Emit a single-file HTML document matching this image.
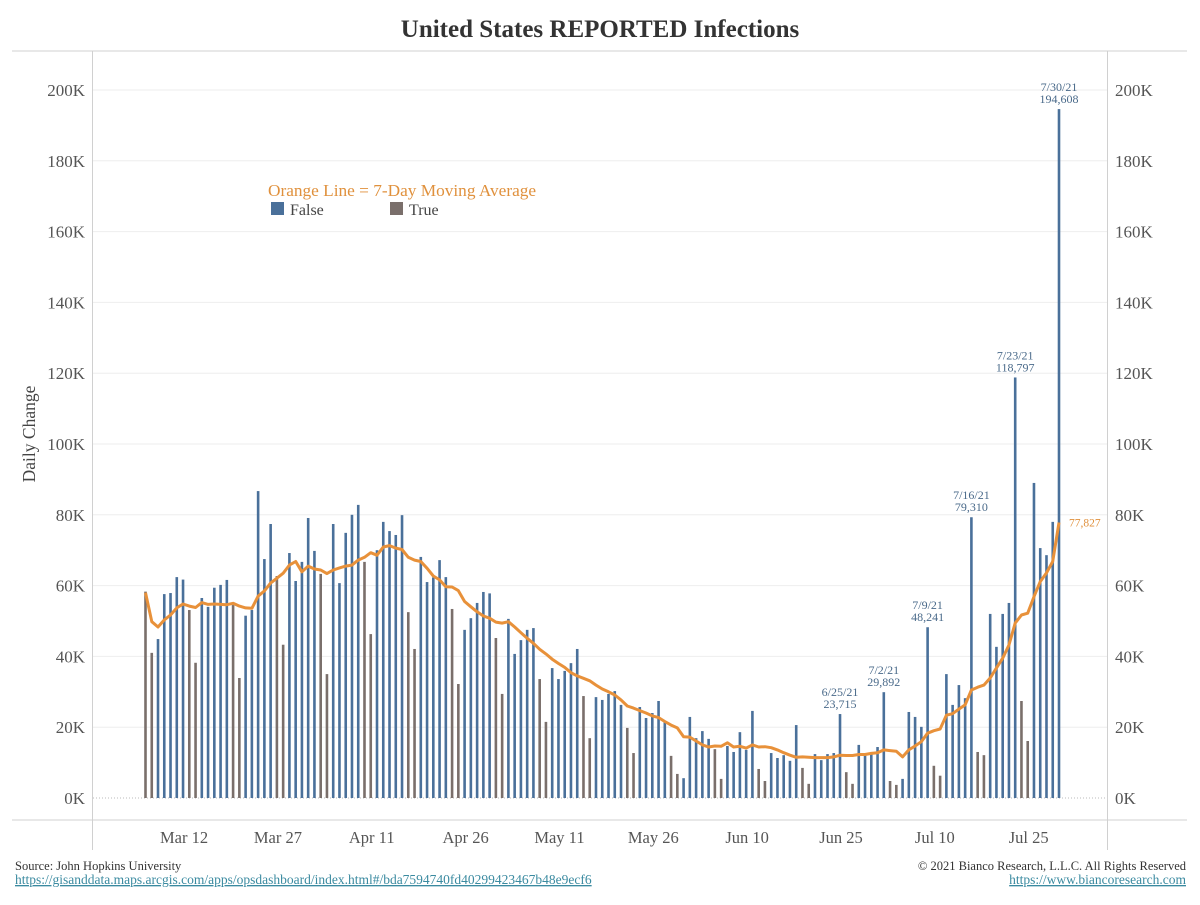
<!DOCTYPE html>
<html><head><meta charset="utf-8"><style>
html,body{margin:0;padding:0;background:#fff;}
body{width:1200px;height:900px;overflow:hidden;font-family:"Liberation Serif",serif;}
</style></head><body>
<svg id="chart" width="1200" height="900" viewBox="0 0 1200 900" xmlns="http://www.w3.org/2000/svg" font-family="Liberation Serif, serif">
<text x="600" y="37" text-anchor="middle" font-size="25" font-weight="bold" fill="#333">United States REPORTED Infections</text>
<g id="frame">
<line x1="12" y1="51" x2="1187" y2="51" stroke="#d0d0d0"/>
<line x1="12" y1="820" x2="1187" y2="820" stroke="#d0d0d0"/>
<line x1="92.5" y1="51" x2="92.5" y2="850" stroke="#d0d0d0"/>
<line x1="1107.5" y1="51" x2="1107.5" y2="850" stroke="#d0d0d0"/>
</g>
<g id="grid"></g>
<g id="bars"></g>
<g id="ma"></g>
<g id="yl"></g>
<g id="yr"></g>
<g id="xa"></g>
<g id="ann"></g>
<text transform="translate(35,434) rotate(-90)" text-anchor="middle" font-size="17.5" fill="#444">Daily Change</text>
<g>
<text x="268" y="196" font-size="17.3" fill="#e0913d">Orange Line = 7-Day Moving Average</text>
<rect x="271" y="202" width="13" height="13" fill="#4a709a"/>
<text x="290" y="215" font-size="16" fill="#444">False</text>
<rect x="390" y="202" width="13" height="13" fill="#7a6f6b"/>
<text x="409" y="215" font-size="16" fill="#444">True</text>
</g>
<text x="15" y="870" font-size="12.5" fill="#333">Source: John Hopkins University</text>
<text x="15" y="884" font-size="13.5" fill="#3a8aa0" text-decoration="underline">https://gisanddata.maps.arcgis.com/apps/opsdashboard/index.html#/bda7594740fd40299423467b48e9ecf6</text>
<text x="1186" y="870" font-size="12.5" fill="#333" text-anchor="end">© 2021 Bianco Research, L.L.C. All Rights Reserved</text>
<text x="1186" y="884" font-size="13.5" fill="#3a8aa0" text-anchor="end" text-decoration="underline">https://www.biancoresearch.com</text>
</svg>
<script>
const startDate = [2021, 2, 6];
const dailyK = [58.3,41.0,44.9,57.6,57.9,62.4,61.7,53.1,38.2,56.5,54.0,59.4,60.2,61.6,54.5,33.9,51.5,53.1,86.7,67.5,77.4,62.7,43.3,69.2,61.3,
66.7,79.1,69.8,63.3,35.0,77.4,60.7,74.9,80.0,82.8,66.7,46.3,70.0,78.0,75.4,74.3,79.9,52.5,42.1,68.1,61.0,62.3,67.2,62.4,
53.4,32.2,47.5,50.8,55.1,58.2,57.8,45.2,29.4,50.6,40.7,44.6,47.5,48.0,33.6,21.5,36.7,33.6,35.9,38.1,42.1,28.8,16.9,28.5,27.7,
29.4,30.2,26.3,19.8,12.7,25.7,22.6,24.0,27.4,21.5,11.9,6.8,5.6,22.9,16.9,18.9,16.7,13.8,5.4,14.7,13.0,18.6,13.6,24.6,8.2,
4.8,12.7,11.3,12.1,10.5,20.6,8.5,4.0,12.4,10.7,12.4,12.7,23.715,7.3,4.0,15.0,12.0,13.0,14.4,29.892,4.8,3.7,5.4,24.3,
22.9,20.1,48.241,9.1,6.3,35.0,26.3,31.9,28.2,79.31,13.0,12.1,52.0,42.7,52.0,55.1,118.797,27.4,16.1,89.0,70.6,68.6,78.0,194.608];
const isTrue = [1,1,0,0,0,0,0,1,1,0,0,0,0,0,1,1,0,0,0,0,0,1,1,0,0,
0,0,0,1,1,0,0,0,0,0,1,1,0,0,0,0,0,1,1,0,0,0,0,0,
1,1,0,0,0,0,0,1,1,0,0,0,0,0,1,1,0,0,0,0,0,1,1,0,0,
0,0,0,1,1,0,0,0,0,0,1,1,0,0,0,0,0,1,1,0,0,0,0,0,1,
1,0,0,0,0,0,1,1,0,0,0,0,0,1,1,0,0,0,0,0,1,1,0,0,
0,0,0,1,1,0,0,0,0,0,1,1,0,0,0,0,0,1,1,0,0,0,0,0];
const movingAvgK = [58,49.8,48.3,50.3,51.7,53.7,54.8,54.2,53.8,55.2,54.7,54.8,54.7,54.6,55,54.2,53.7,53.6,57,58.5,60.7,62.1,63.5,65.8,66.8,
63.9,65.5,64.7,64.4,63.4,64.4,65,65.5,65.8,67.2,68,69.3,68.6,70.9,71.3,70.6,70.2,68,67.2,66.8,64.9,62.7,61.6,59.7,
59.6,58.6,55.5,54,52.6,51.4,50.8,49.7,49.4,49.8,48.3,46.7,45.1,43.7,42,40.7,39.2,38,36.9,35.4,34.5,33.8,33.1,31.9,30.8,
30,29.1,27.7,26,25.4,24.7,24,23.2,22.7,21.6,20.6,19.8,17.3,17.2,16.1,15,14.4,14.7,14.6,15.6,14.4,14.6,14.1,15,14.4,
14.5,14.2,13.6,12.8,12.1,11.5,11.6,11.5,11.4,11.4,11.4,11.6,12.1,12,12,12.3,12.3,12.6,12.8,13.6,13.4,13.2,11.6,13.6,
14.7,15.9,18.3,19,19.5,23.4,23.8,25.1,26.3,30.5,31.3,31.9,33.9,36.7,39.5,43.2,49.4,51.7,52.2,56.9,61.1,63.6,66.8,77.827];
const yTicks = [0,20,40,60,80,100,120,140,160,180,200];
const yTickLabels = ["0K","20K","40K","60K","80K","100K","120K","140K","160K","180K","200K"];
const xTickLabels = ["Mar 12","Mar 27","Apr 11","Apr 26","May 11","May 26","Jun 10","Jun 25","Jul 10","Jul 25"];
const xTickDays = [6,21,36,51,66,81,96,111,126,141];
const annDays = [111,118,125,132,139,146];
const annTexts = [["6/25/21","23,715"],["7/2/21","29,892"],["7/9/21","48,241"],["7/16/21","79,310"],["7/23/21","118,797"],["7/30/21","194,608"]];
const maEndLabel = "77,827";

const NS="http://www.w3.org/2000/svg";
const X0=145.5, DX=(1059-145.5)/146;
function xs(i){return X0+i*DX;}
function ys(v){return 798 - v*3.54;}
function mk(tag,attrs,parent,text){const e=document.createElementNS(NS,tag);for(const k in attrs)e.setAttribute(k,attrs[k]);if(text!==undefined)e.textContent=text;parent.appendChild(e);return e;}

const grid=document.getElementById('grid'), yl=document.getElementById('yl'), yr=document.getElementById('yr');
yTicks.forEach((t,i)=>{
  const y=ys(t);
  let g;
  if(t===0){g=mk('line',{x1:93,x2:1107,y1:y,y2:y,stroke:'#bbb','stroke-dasharray':'1,2'},grid);}
  else{g=mk('line',{x1:93,x2:1107,y1:y,y2:y,stroke:'#eeeeee'},grid);}
  
  
  const a=mk('text',{x:85,y:y+6,'text-anchor':'end','font-size':17,fill:'#555'},yl,yTickLabels[i]);
  
  
  const b=mk('text',{x:1115,y:y+6,'text-anchor':'start','font-size':17,fill:'#555'},yr,yTickLabels[i]);
  
  
});
const xa=document.getElementById('xa');
xTickLabels.forEach((l,i)=>{
  const t=mk('text',{x:xs(xTickDays[i])+1,y:843,'text-anchor':'middle','font-size':16.5,fill:'#555'},xa,l);
  
  
});
const bars=document.getElementById('bars');
dailyK.forEach((v,i)=>{
  const r=mk('rect',{x:xs(i)-1.3,y:ys(v),width:2.6,height:798-ys(v),fill:isTrue[i]?'#7a6f6b':'#4a709a'},bars);
  
  
});
const ma=document.getElementById('ma');
const pts=movingAvgK.map((v,i)=>xs(i).toFixed(1)+','+ys(v).toFixed(1)).join(' ');
const pl=mk('polyline',{points:pts,fill:'none',stroke:'#e8913a','stroke-width':3,'stroke-linejoin':'round'},ma);


const last=movingAvgK.length-1;
const ml=mk('text',{x:xs(last)+10,y:ys(movingAvgK[last])+4,'font-size':11.5,fill:'#e0913d'},ma,maEndLabel);


const ann=document.getElementById('ann');
annDays.forEach((d,i)=>{
  const x=xs(d), y=ys(dailyK[d]);
  const a=mk('text',{x:x,y:y-18,'text-anchor':'middle','font-size':12,fill:'#4a6a8a'},ann,annTexts[i][0]);
  
  
  const b=mk('text',{x:x,y:y-6,'text-anchor':'middle','font-size':12,fill:'#4a6a8a'},ann,annTexts[i][1]);
  
  
});
</script>
</body></html>
